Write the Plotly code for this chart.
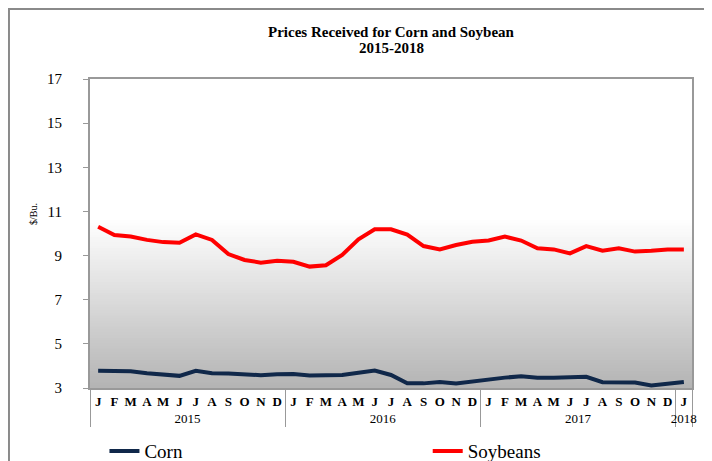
import plotly.graph_objects as go

# ---- data ----
month_letters = ["J", "F", "M", "A", "M", "J", "J", "A", "S", "O", "N", "D"]
years = ["2015", "2016", "2017", "2018"]
months_per_year = [12, 12, 12, 1]

corn = [3.78, 3.78, 3.76, 3.67, 3.59, 3.55, 3.78, 3.67, 3.66, 3.64, 3.58, 3.62,
        3.63, 3.57, 3.57, 3.59, 3.69, 3.79, 3.59, 3.21, 3.21, 3.27, 3.20, 3.30,
        3.39, 3.47, 3.53, 3.47, 3.47, 3.47, 3.51, 3.26, 3.26, 3.25, 3.11, 3.21,
        3.27]
soybeans = [10.31, 9.93, 9.86, 9.71, 9.61, 9.58, 9.96, 9.71, 9.07, 8.80, 8.68, 8.77,
            8.72, 8.50, 8.56, 9.03, 9.74, 10.19, 10.19, 9.95, 9.43, 9.28, 9.48, 9.63,
            9.68, 9.86, 9.68, 9.33, 9.28, 9.10, 9.43, 9.22, 9.33, 9.18, 9.22, 9.28,
            9.28]

# build multicategory x (zero-width spaces keep repeated letters distinct)
outer, inner = [], []
for yr, n in zip(years, months_per_year):
    seen = {}
    for m in month_letters[:n]:
        k = seen.get(m, 0)
        seen[m] = k + 1
        outer.append(yr)
        inner.append("<b>" + m + "\u200b" * k + "</b>")
x = [outer, inner]
n_cat = len(outer)

SERIF = "Liberation Serif, Times New Roman, serif"

fig = go.Figure()
fig.add_trace(go.Scatter(x=x, y=corn, mode="lines", name="Corn",
                         line=dict(color="#10284a", width=4), legend="legend"))
fig.add_trace(go.Scatter(x=x, y=soybeans, mode="lines", name="Soybeans",
                         line=dict(color="#ff0000", width=4), legend="legend2"))

# gradient background (nested rects, lightest/tallest first -> no seams)
shapes = []
g_top, g_bot = 10.6, 3.0
nb = 60
for i in range(nb, 0, -1):
    y1 = g_bot + (g_top - g_bot) * i / nb
    t = (i - 0.5) / nb
    c = int(180 + (255 - 180) * t)
    shapes.append(dict(type="rect", xref="paper", yref="y", x0=0, x1=1, y0=g_bot, y1=y1,
                       fillcolor=f"rgb({c},{c},{c})", line=dict(width=0), layer="below"))
# outer frame
shapes.append(dict(type="rect", xref="paper", yref="paper", x0=-0.1346, x1=1.06,
                   y0=-0.3, y1=1.2265, line=dict(color="#8a8a8a", width=2),
                   fillcolor="rgba(0,0,0,0)", layer="below"))

leg_common = dict(orientation="h", xanchor="left", y=-0.204, yanchor="middle",
                  font=dict(family=SERIF, size=19, color="black"),
                  bgcolor="rgba(0,0,0,0)")

fig.update_layout(
    width=704, height=453,
    margin=dict(l=82, r=20, t=71, b=73, autoexpand=False),
    paper_bgcolor="white", plot_bgcolor="white",
    font=dict(family=SERIF, color="black"),
    title=dict(text="<b>Prices Received for Corn and Soybean</b>",
               x=0.5, xref="paper", xanchor="center",
               y=0.948, yref="container", yanchor="middle", automargin=False,
               font=dict(family=SERIF, size=15, color="black")),
    shapes=shapes,
    showlegend=True,
    legend=dict(x=0.024, **leg_common),
    legend2=dict(x=0.561, **leg_common),
    annotations=[
        dict(text="<b>2015-2018</b>", xref="paper", yref="paper", x=0.5, y=1.1005,
             xanchor="center", yanchor="middle", showarrow=False,
             font=dict(family=SERIF, size=15, color="black")),
        dict(text="$/Bu.", textangle=-90, xref="paper", yref="paper",
             x=-0.0947, y=0.563, xanchor="center", yanchor="middle",
             showarrow=False, font=dict(family=SERIF, size=10, color="black")),
    ],
)
fig.update_yaxes(range=[3, 17], dtick=2, tick0=3, showgrid=False, zeroline=False,
                 ticks="outside", ticklen=5, tickcolor="#999999",
                 showline=True, linecolor="#999999", linewidth=2, mirror=True,
                 tickfont=dict(family=SERIF, size=15, color="black"),
                 ticklabelstandoff=18, automargin=False)
fig.update_xaxes(type="multicategory", range=[-0.5, n_cat - 0.5],
                 showgrid=False, ticks="", tickangle=0,
                 showline=True, linecolor="#999999", linewidth=2, mirror=True,
                 showdividers=True, dividercolor="#999999", dividerwidth=1,
                 automargin=False,
                 tickfont=dict(family=SERIF, size=13, color="black"))

fig.write_html("out.html")
